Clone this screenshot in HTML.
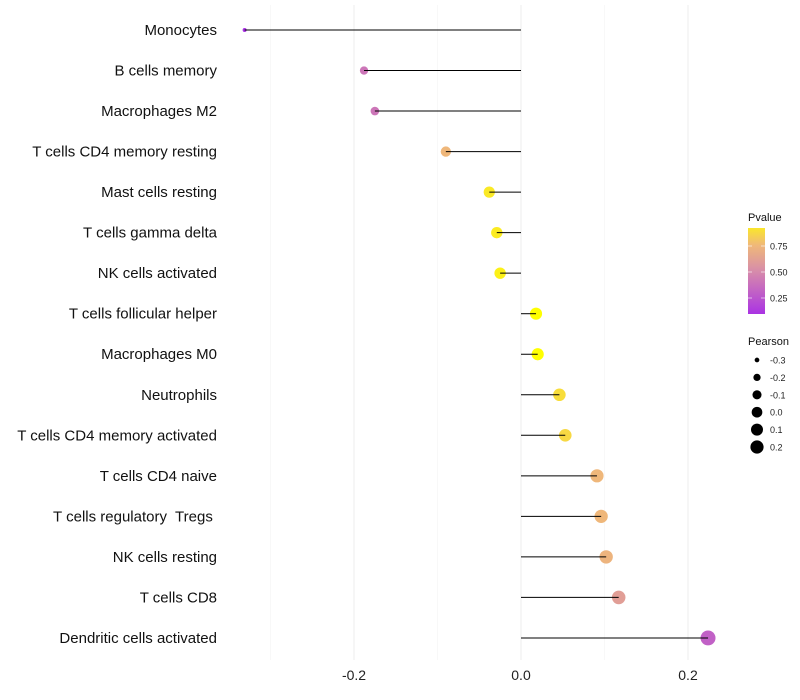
<!DOCTYPE html>
<html><head><meta charset="utf-8"><style>
body{margin:0;background:#fff;}
svg{display:block;font-family:"Liberation Sans",sans-serif;}
text{white-space:pre;}
</style></head><body>
<svg id="chart" width="800" height="700" xmlns="http://www.w3.org/2000/svg"></svg>
<script>
const categories=["Monocytes","B cells memory","Macrophages M2","T cells CD4 memory resting","Mast cells resting","T cells gamma delta","NK cells activated","T cells follicular helper","Macrophages M0","Neutrophils","T cells CD4 memory activated","T cells CD4 naive","T cells regulatory  Tregs ","NK cells resting","T cells CD8","Dendritic cells activated"];
const pearson=[-0.331,-0.188,-0.175,-0.090,-0.038,-0.029,-0.025,0.018,0.020,0.046,0.053,0.091,0.096,0.102,0.117,0.224];
const pvalue=[0.08,0.40,0.40,0.74,0.92,0.93,0.95,1.0,1.0,0.88,0.86,0.74,0.74,0.72,0.60,0.30];
const xTicks=[-0.2,0.0,0.2];
const xTickLabels=["-0.2","0.0","0.2"];
const xGrid=[-0.3,-0.1,0.1];
const pLegend=[0.25,0.50,0.75];
const pLegendLabels=["0.25","0.50","0.75"];
const sLegend=[-0.3,-0.2,-0.1,0.0,0.1,0.2];
const sLegendLabels=["-0.3","-0.2","-0.1","0.0","0.1","0.2"];

const svg=document.getElementById('chart');
const NS="http://www.w3.org/2000/svg";
function mk(t,a,p){const e=document.createElementNS(NS,t);for(const k in a)e.setAttribute(k,a[k]);(p||svg).appendChild(e);return e;}
const x=v=>521+v*835;
const y=i=>30+i*40.53;
const r=v=>Math.sqrt(4+Math.max(0,v+0.331)*93.7);
function lerp(a,b,t){return a.map((c,i)=>Math.round(c+(b[i]-c)*t));}
const stops=[[0,[160,32,240]],[0.5,[215,140,170]],[0.75,[240,185,120]],[1,[255,255,0]]];
function col(p){p=Math.max(0,Math.min(1,p));for(let i=1;i<stops.length;i++){if(p<=stops[i][0]){const t=(p-stops[i-1][0])/(stops[i][0]-stops[i-1][0]);return 'rgb('+lerp(stops[i-1][1],stops[i][1],t).join(',')+')';}}return 'rgb(255,255,0)';}

xGrid.forEach(v=>{const g=mk('line',{x1:x(v),x2:x(v),y1:5,y2:660,stroke:'#f3f3f3','stroke-width':0.6});

});
xTicks.forEach((v,i)=>{const g=mk('line',{x1:x(v),x2:x(v),y1:5,y2:660,stroke:'#ededed','stroke-width':1});


const t=mk('text',{x:x(v),y:680,'text-anchor':'middle','font-size':14,fill:'#222'});t.textContent=xTickLabels[i];

});

categories.forEach((c,i)=>{
const t=mk('text',{x:217,y:y(i)+5,'text-anchor':'end','font-size':15,fill:'#111'});t.textContent=c;


const d=mk('circle',{cx:x(pearson[i]),cy:y(i),r:r(pearson[i]),fill:col(pvalue[i])});


const l=mk('line',{x1:x(0),x2:x(pearson[i]),y1:y(i),y2:y(i),stroke:'#000','stroke-width':1});


});

const lt=mk('text',{x:748,y:221,'font-size':11,fill:'#111'});lt.textContent='Pvalue';


const defs=mk('defs',{});const gr=mk('linearGradient',{id:'pg',x1:0,y1:1,x2:0,y2:0},defs);
for(let k=0;k<=10;k++){const p=0.09+k*0.082;mk('stop',{offset:k/10,'stop-color':col(p)},gr);}
const bar=mk('rect',{x:748,y:228,width:17,height:86,fill:'url(#pg)'});


const py=p=>272-(p-0.5)*104;
pLegend.forEach((p,i)=>{const t=mk('text',{x:770,y:py(p)+3.5,'font-size':9,fill:'#222'});t.textContent=pLegendLabels[i];


mk('line',{x1:748,x2:752,y1:py(p),y2:py(p),stroke:'#fff','stroke-width':0.6});mk('line',{x1:761,x2:765,y1:py(p),y2:py(p),stroke:'#fff','stroke-width':0.6});});
const st=mk('text',{x:748,y:345,'font-size':11,fill:'#111'});st.textContent='Pearson';


sLegend.forEach((v,i)=>{const cy=360+i*17.4;
const c=mk('circle',{cx:757,cy:cy,r:r(v)*0.9,fill:'#000'});


const t=mk('text',{x:770,y:cy+3.5,'font-size':9,fill:'#222'});t.textContent=sLegendLabels[i];

});
</script>
</body></html>
